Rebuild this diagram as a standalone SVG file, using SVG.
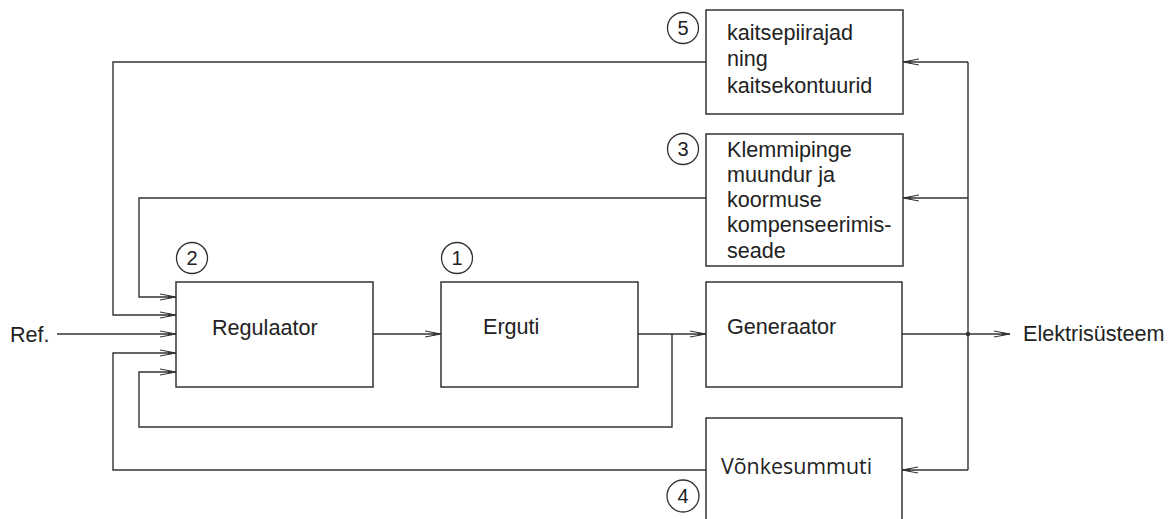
<svg xmlns="http://www.w3.org/2000/svg" width="1176" height="519" viewBox="0 0 1176 519">
  <style>
    .box { fill: #fff; stroke: #333; stroke-width: 1.5; }
    .wire { fill: none; stroke: #333; stroke-width: 1.4; }
    .lbl { font-family: "Liberation Sans", Arial, sans-serif; font-size: 21.6px; fill: #222; }
    .lbl2 { font-family: "Open Sans", "Liberation Sans", sans-serif; font-size: 21.4px; fill: #222; }
    .num { font-family: "Liberation Sans", Arial, sans-serif; font-size: 20px; fill: #222; text-anchor: middle; }
    .tag { fill: none; stroke: #333; stroke-width: 1.3; }
  </style>
  <defs>
    <marker id="arr" viewBox="0 0 16 8" refX="16" refY="4" markerWidth="16" markerHeight="8" markerUnits="userSpaceOnUse" orient="auto">
      <path d="M0,1 L16,4 L0,7" fill="none" stroke="#333" stroke-width="1.1"/>
      <path d="M8,2.6 L16,4 L8,5.4 Z" fill="#333"/>
    </marker>
  </defs>

  <g id="connectors">
    <!-- reference input -->
    <path class="wire" d="M57,334 H176" marker-end="url(#arr)"/>
    <!-- regulator to exciter -->
    <path class="wire" d="M373,334 H441" marker-end="url(#arr)"/>
    <!-- exciter to generator -->
    <path class="wire" d="M638,334 H706" marker-end="url(#arr)"/>
    <!-- generator to power system -->
    <path class="wire" d="M902,334 H1010" marker-end="url(#arr)"/>
    <circle cx="968" cy="334" r="2.2" fill="#333"/>
    <!-- measurement bus on the right -->
    <path class="wire" d="M968,62 V470"/>
    <path class="wire" d="M968,62 H903" marker-end="url(#arr)"/>
    <path class="wire" d="M968,198 H903" marker-end="url(#arr)"/>
    <path class="wire" d="M968,470 H902" marker-end="url(#arr)"/>
    <!-- limiter feedback -->
    <path class="wire" d="M706,62 H113 V315 H176" marker-end="url(#arr)"/>
    <!-- terminal voltage transducer feedback -->
    <path class="wire" d="M706,198 H139 V297 H176" marker-end="url(#arr)"/>
    <!-- exciter output feedback -->
    <path class="wire" d="M672,334 V427 H139 V372 H176" marker-end="url(#arr)"/>
    <!-- stabilizer feedback -->
    <path class="wire" d="M706,470 H113 V353 H176" marker-end="url(#arr)"/>
  </g>

  <text class="lbl" x="10" y="342">Ref.</text>
  <text class="lbl" x="1023" y="341">Elektrisüsteem</text>

  <g id="regulaator">
    <rect class="box" x="176" y="282" width="197" height="105"/>
    <text class="lbl" x="212" y="335">Regulaator</text>
    <circle class="tag" cx="192" cy="258" r="15.5"/>
    <text class="num" x="192" y="265">2</text>
  </g>

  <g id="erguti">
    <rect class="box" x="441" y="282" width="197" height="105"/>
    <text class="lbl" x="483" y="334">Erguti</text>
    <circle class="tag" cx="457" cy="258" r="15.5"/>
    <text class="num" x="457" y="265">1</text>
  </g>

  <g id="generaator">
    <rect class="box" x="706" y="282" width="196" height="105"/>
    <text class="lbl" x="727" y="334">Generaator</text>
  </g>

  <g id="kaitsepiirajad">
    <rect class="box" x="706" y="10" width="197" height="104"/>
    <text class="lbl" x="727" y="40">kaitsepiirajad</text>
    <text class="lbl" x="727" y="66">ning</text>
    <text class="lbl" x="727" y="93">kaitsekontuurid</text>
    <circle class="tag" cx="683" cy="28" r="15.5"/>
    <text class="num" x="683" y="35">5</text>
  </g>

  <g id="klemmipinge">
    <rect class="box" x="706" y="134" width="197" height="132"/>
    <text class="lbl" x="727" y="157">Klemmipinge</text>
    <text class="lbl" x="727" y="182">muundur ja</text>
    <text class="lbl" x="727" y="207">koormuse</text>
    <text class="lbl" x="727" y="232">kompenseerimis-</text>
    <text class="lbl" x="727" y="258">seade</text>
    <circle class="tag" cx="683" cy="149" r="15.5"/>
    <text class="num" x="683" y="156">3</text>
  </g>

  <g id="vonkesummuti">
    <rect class="box" x="706" y="418" width="196" height="110"/>
    <text class="lbl2" x="721" y="474">Võnkesummuti</text>
    <circle class="tag" cx="683" cy="496" r="16"/>
    <text class="num" x="683" y="503">4</text>
  </g>
</svg>
